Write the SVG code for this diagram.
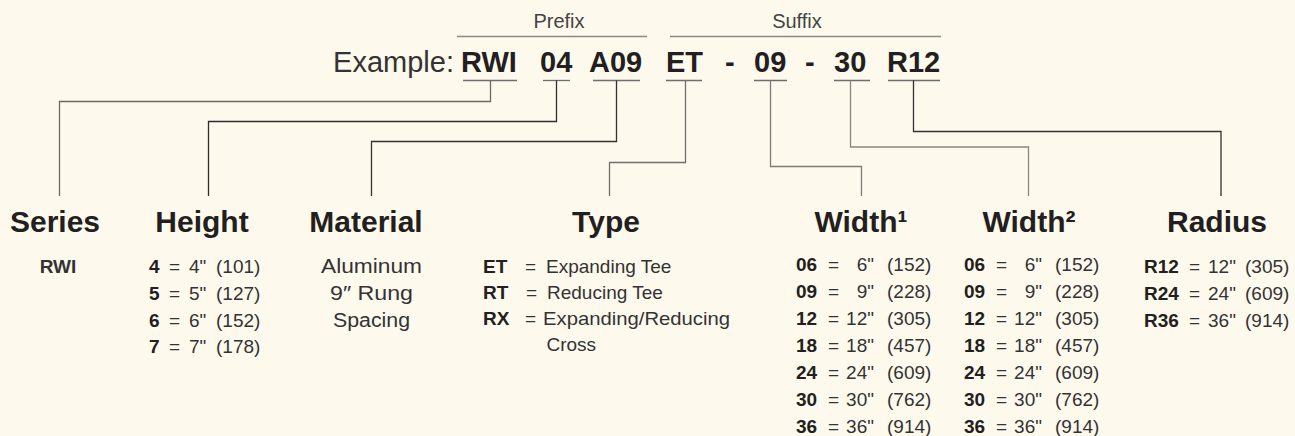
<svg xmlns="http://www.w3.org/2000/svg" width="1295" height="436" viewBox="0 0 1295 436">
<style>
text{font-family:"Liberation Sans",Arial,sans-serif;fill:#2a2728}
.lt{font-weight:normal;fill:#333}
.b{font-weight:bold;fill:#231f20}
.big{font-size:29px}
.cap{font-size:20px;fill:#444}
.hd{font-size:30px;font-weight:bold;fill:#231f20;text-anchor:middle}
.it{font-size:19px;fill:#333}
.mid{text-anchor:middle}
.end{text-anchor:end}
.bar{stroke:#8c8a86;stroke-width:1.6;fill:none}
.ul{stroke:#6f6e6b;stroke-width:1.3;fill:none}
.c{fill:none;stroke-width:1.3}
</style>
<rect width="1295" height="436" fill="#fdf9ed"/>
<g id="code">
<text class="cap mid" x="559" y="28">Prefix</text>
<text class="cap mid" x="797" y="28">Suffix</text>
<line class="bar" x1="457" y1="36.5" x2="647" y2="36.5"/>
<line class="bar" x1="670" y1="36.5" x2="941" y2="36.5"/>
<text class="big lt end" x="454" y="71.5">Example:</text>
<text class="big b" y="71.5"><tspan x="461">RWI</tspan><tspan x="540">04</tspan><tspan x="589">A09</tspan><tspan x="666">ET</tspan><tspan x="725">-</tspan><tspan x="754">09</tspan><tspan x="805">-</tspan><tspan x="834">30</tspan><tspan x="887">R12</tspan></text>
<g class="ul">
<line x1="463" y1="80.5" x2="517" y2="80.5"/>
<line x1="543" y1="80.5" x2="570" y2="80.5"/>
<line x1="593" y1="80.5" x2="640" y2="80.5"/>
<line x1="666" y1="80.5" x2="702" y2="80.5"/>
<line x1="754" y1="80.5" x2="787" y2="80.5"/>
<line x1="834" y1="80.5" x2="870" y2="80.5"/>
<line x1="888" y1="80.5" x2="940" y2="80.5"/>
</g>
</g>
<g id="connectors">
<path class="c" stroke="#6a6966" d="M490.5 80.5 V101.5 H59.5 V196"/>
<path class="c" stroke="#2e2d2c" d="M556.5 80.5 V121.5 H208.5 V196"/>
<path class="c" stroke="#333231" d="M616.5 80.5 V141.5 H371.5 V196"/>
<path class="c" stroke="#6f6e6a" d="M685.5 80.5 V162.5 H609.5 V196"/>
<path class="c" stroke="#7d7b77" d="M770.5 80.5 V166.5 H861.5 V196"/>
<path class="c" stroke="#8a8680" stroke-width="1.6" d="M850.5 80.5 V147 H1028.5 V196"/>
<path class="c" stroke="#333231" d="M913.5 80.5 V131.5 H1221 V196"/>
</g>
<g id="series">
<text class="hd" x="55" y="232">Series</text>
<text class="it b mid" x="58" y="272.5">RWI</text>
</g>
<g id="height">
<text class="hd" x="202" y="232">Height</text>
<text class="it" y="273"><tspan x="149" class="b">4</tspan><tspan x="169">=</tspan><tspan x="189">4"</tspan><tspan x="216">(101)</tspan></text>
<text class="it" y="300"><tspan x="149" class="b">5</tspan><tspan x="169">=</tspan><tspan x="189">5"</tspan><tspan x="216">(127)</tspan></text>
<text class="it" y="326.5"><tspan x="149" class="b">6</tspan><tspan x="169">=</tspan><tspan x="189">6"</tspan><tspan x="216">(152)</tspan></text>
<text class="it" y="353"><tspan x="149" class="b">7</tspan><tspan x="169">=</tspan><tspan x="189">7"</tspan><tspan x="216">(178)</tspan></text>
</g>
<g id="material">
<text class="hd" x="366" y="232">Material</text>
<text class="it" x="321" y="273" style="font-size:20px" textLength="101" lengthAdjust="spacingAndGlyphs">Aluminum</text>
<text class="it" x="330" y="300" style="font-size:20px" textLength="83" lengthAdjust="spacingAndGlyphs">9″ Rung</text>
<text class="it" x="333" y="326.5" style="font-size:20px" textLength="77" lengthAdjust="spacingAndGlyphs">Spacing</text>
</g>
<g id="type">
<text class="hd" x="606" y="232">Type</text>
<text class="it" y="272.5"><tspan x="483" class="b">ET</tspan><tspan x="525">=</tspan><tspan x="546">Expanding Tee</tspan></text>
<text class="it" y="298.5"><tspan x="483" class="b">RT</tspan><tspan x="526">=</tspan><tspan x="547">Reducing Tee</tspan></text>
<text class="it" y="325"><tspan x="483" class="b">RX</tspan><tspan x="525">=</tspan></text>
<text class="it" x="543" y="325" textLength="187" lengthAdjust="spacingAndGlyphs">Expanding/Reducing</text>
<text class="it" x="546.5" y="351">Cross</text>
</g>
<g id="width1">
<text class="hd" x="861" y="232">Width¹</text>
<text class="it" y="271"><tspan x="796" class="b">06</tspan><tspan x="828">=</tspan><tspan x="874" class="end">6"</tspan><tspan x="887">(152)</tspan></text>
<text class="it" y="298"><tspan x="796" class="b">09</tspan><tspan x="828">=</tspan><tspan x="874" class="end">9"</tspan><tspan x="887">(228)</tspan></text>
<text class="it" y="325"><tspan x="796" class="b">12</tspan><tspan x="828">=</tspan><tspan x="874" class="end">12"</tspan><tspan x="887">(305)</tspan></text>
<text class="it" y="352"><tspan x="796" class="b">18</tspan><tspan x="828">=</tspan><tspan x="874" class="end">18"</tspan><tspan x="887">(457)</tspan></text>
<text class="it" y="379"><tspan x="796" class="b">24</tspan><tspan x="828">=</tspan><tspan x="874" class="end">24"</tspan><tspan x="887">(609)</tspan></text>
<text class="it" y="406"><tspan x="796" class="b">30</tspan><tspan x="828">=</tspan><tspan x="874" class="end">30"</tspan><tspan x="887">(762)</tspan></text>
<text class="it" y="433"><tspan x="796" class="b">36</tspan><tspan x="828">=</tspan><tspan x="874" class="end">36"</tspan><tspan x="887">(914)</tspan></text>
</g>
<g id="width2">
<text class="hd" x="1029" y="232">Width²</text>
<text class="it" y="271"><tspan x="964" class="b">06</tspan><tspan x="996">=</tspan><tspan x="1042" class="end">6"</tspan><tspan x="1055">(152)</tspan></text>
<text class="it" y="298"><tspan x="964" class="b">09</tspan><tspan x="996">=</tspan><tspan x="1042" class="end">9"</tspan><tspan x="1055">(228)</tspan></text>
<text class="it" y="325"><tspan x="964" class="b">12</tspan><tspan x="996">=</tspan><tspan x="1042" class="end">12"</tspan><tspan x="1055">(305)</tspan></text>
<text class="it" y="352"><tspan x="964" class="b">18</tspan><tspan x="996">=</tspan><tspan x="1042" class="end">18"</tspan><tspan x="1055">(457)</tspan></text>
<text class="it" y="379"><tspan x="964" class="b">24</tspan><tspan x="996">=</tspan><tspan x="1042" class="end">24"</tspan><tspan x="1055">(609)</tspan></text>
<text class="it" y="406"><tspan x="964" class="b">30</tspan><tspan x="996">=</tspan><tspan x="1042" class="end">30"</tspan><tspan x="1055">(762)</tspan></text>
<text class="it" y="433"><tspan x="964" class="b">36</tspan><tspan x="996">=</tspan><tspan x="1042" class="end">36"</tspan><tspan x="1055">(914)</tspan></text>
</g>
<g id="radius">
<text class="hd" x="1217" y="232">Radius</text>
<text class="it" y="273"><tspan x="1144" class="b">R12</tspan><tspan x="1189">=</tspan><tspan x="1208">12"</tspan><tspan x="1245">(305)</tspan></text>
<text class="it" y="300"><tspan x="1144" class="b">R24</tspan><tspan x="1189">=</tspan><tspan x="1208">24"</tspan><tspan x="1245">(609)</tspan></text>
<text class="it" y="327"><tspan x="1144" class="b">R36</tspan><tspan x="1189">=</tspan><tspan x="1208">36"</tspan><tspan x="1245">(914)</tspan></text>
</g>
</svg>
